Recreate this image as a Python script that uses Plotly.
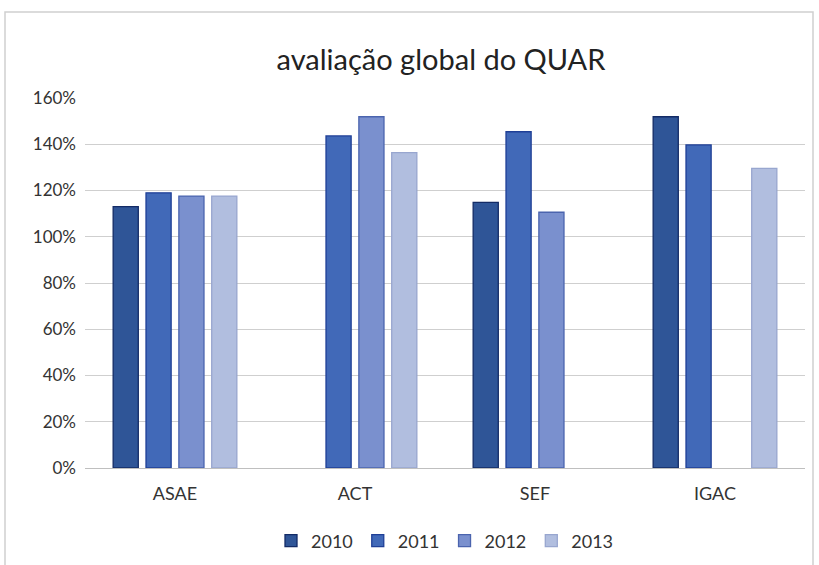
import plotly.graph_objects as go

categories = ["ASAE", "ACT", "SEF", "IGAC"]
years = ["2010", "2011", "2012", "2013"]
v2010 = [1.13, None, 1.149, 1.519]
v2011 = [1.19, 1.436, 1.454, 1.397]
v2012 = [1.176, 1.519, 1.106, None]
v2013 = [1.176, 1.364, None, 1.296]
series = [v2010, v2011, v2012, v2013]
fills = ["#2F5597", "#4169B8", "#7A90CE", "#B1BEDF"]
lines = ["#132B66", "#1F3F96", "#4B64AE", "#98A6CF"]
tickvals = [0, 0.2, 0.4, 0.6, 0.8, 1.0, 1.2, 1.4, 1.6]

fig = go.Figure()
for name, vals, fc, lc in zip(years, series, fills, lines):
    fig.add_trace(go.Bar(x=categories, y=vals, name=name,
                         marker=dict(color=fc, line=dict(color=lc, width=1.3))))

font = "Lato, Open Sans, Liberation Sans, sans-serif"
fig.update_layout(
    width=819, height=565,
    margin=dict(l=85, r=14, t=98, b=97, autoexpand=False),
    paper_bgcolor="white", plot_bgcolor="white",
    barmode="group", bargap=0.27, bargroupgap=0.235,
    title=dict(text="avaliação global do QUAR", x=441/819, xanchor="center",
               y=1 - 60/565, yanchor="middle",
               font=dict(family=font, size=29, color="#222222")),
    font=dict(family=font, size=17, color="#333333"),
    yaxis=dict(range=[0, 1.6], tickvals=tickvals, tickformat=".0%",
               gridcolor="#CFCFCF", gridwidth=1, zeroline=False,
               showline=False, ticks="", ticklen=0, ticklabelstandoff=8,
               tickfont=dict(size=17, color="#333333")),
    xaxis=dict(showline=True, linecolor="#BFBFBF", linewidth=1, ticks="",
               ticklabelstandoff=9,
               tickfont=dict(size=18, color="#333333")),
    legend=dict(orientation="h", x=0.5, xanchor="center", y=-(541-468)/370,
                yanchor="middle", font=dict(size=18, color="#333333"),
                itemwidth=30, traceorder="normal"),
    shapes=[dict(type="rect", xref="paper", yref="paper",
                 x0=-80/720, x1=(813-85)/720, y0=-(580-468)/370, y1=(468-12)/370,
                 line=dict(color="#D0D0D0", width=1.5), fillcolor="rgba(0,0,0,0)",
                 layer="below")],
)
fig.write_html("out.html", config={"displayModeBar": False},
               post_script="document.body.style.margin='0';document.body.style.overflow='hidden';")
